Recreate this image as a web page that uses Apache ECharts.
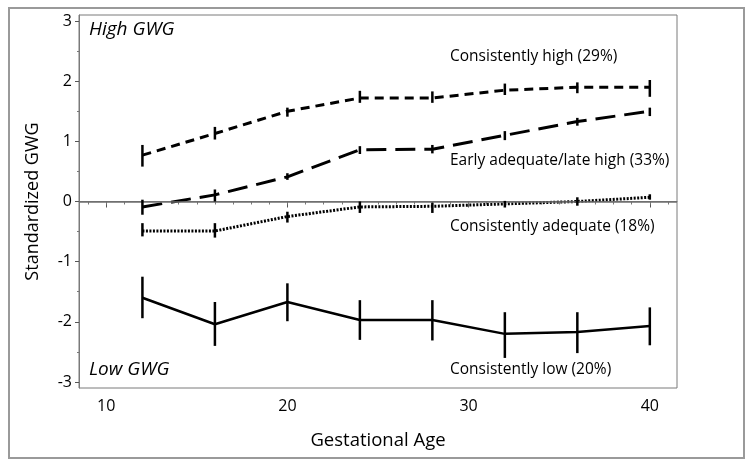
<!DOCTYPE html>
<html><head><meta charset="utf-8">
<script src="https://cdn.jsdelivr.net/npm/echarts@6/dist/echarts.min.js"></script>
<style>html,body{margin:0;padding:0;background:#fff}#c{width:750px;height:463px}</style>
</head><body><div id="c"></div>
<script>
var ages = [12,16,20,24,28,32,36,40];
var highMean = [0.77,1.13,1.50,1.72,1.72,1.85,1.90,1.90];
var highLo   = [0.58,1.03,1.41,1.64,1.64,1.77,1.80,1.74];
var highHi   = [0.94,1.24,1.56,1.84,1.83,1.96,1.98,2.02];
var earlyMean = [-0.09,0.11,0.41,0.86,0.87,1.10,1.33,1.50];
var earlyLo   = [-0.22,0.00,0.36,0.79,0.80,1.02,1.26,1.42];
var earlyHi   = [0.03,0.20,0.47,0.92,0.94,1.17,1.39,1.56];
var adeqMean = [-0.49,-0.49,-0.25,-0.09,-0.08,-0.04,0.00,0.07];
var adeqLo   = [-0.58,-0.60,-0.35,-0.19,-0.19,-0.10,-0.07,0.03];
var adeqHi   = [-0.36,-0.36,-0.17,0.00,-0.02,0.01,0.07,0.12];
var lowMean = [-1.60,-2.04,-1.67,-1.97,-1.97,-2.20,-2.17,-2.07];
var lowLo   = [-1.94,-2.40,-1.99,-2.30,-2.31,-2.60,-2.52,-2.39];
var lowHi   = [-1.25,-1.67,-1.36,-1.64,-1.64,-1.84,-1.84,-1.76];
var xMajor = [10,20,30,40];
var xMinor = [9,10,11,12,13,14,15,16,17,18,19,20,21,22,23,24,25,26,27,28,29,30,31,32,33,34,35,36,37,38,39,40,41];
var yMajor = [-3,-2,-1,0,1,2,3];
var yMinor = [-2.5,-1.5,-0.5,0.5,1.5,2.5];
var groupNames = ['Consistently high (29%)','Early adequate/late high (33%)','Consistently adequate (18%)','Consistently low (20%)'];

var FONT = 'Open Sans';
var chart = echarts.init(document.getElementById('c'));

function pairs(m){ return ages.map(function(a,i){ return [a, m[i]]; }); }
function bars(lo,hi){ return ages.map(function(a,i){ return [a, lo[i], hi[i]]; }); }
function errSeries(lo,hi,w){
  return {
    type:'custom', xAxisIndex:0, yAxisIndex:0, silent:true, z:5,
    data: bars(lo,hi),
    encode:{x:0, y:[1,2]},
    renderItem:function(params, api){
      var p1 = api.coord([api.value(0), api.value(1)]);
      var p2 = api.coord([api.value(0), api.value(2)]);
      return {type:'line', shape:{x1:p1[0],y1:p1[1],x2:p2[0],y2:p2[1]}, style:{stroke:'#000', lineWidth:w}};
    }
  };
}
function lineSeries(m, type, w){
  return {type:'line', xAxisIndex:0, yAxisIndex:0, data:pairs(m), symbol:'none', silent:true, z:4,
    lineStyle:{color:'#000', width:w, type:type}};
}
var axisTxt = {fontFamily:FONT, fontSize:16, color:'#000'};
var noteStyle = {fontFamily:FONT, fontSize:15.5, fill:'#000', verticalAlign:'middle'};

var option = {
  animation:false,
  grid:{left:79, top:15, right:73, bottom:75, show:true, borderColor:'#7a7a7a', borderWidth:1},
  xAxis:[
    {type:'value', min:8.5, max:41.5, position:'bottom',
     name:'Gestational Age', nameLocation:'middle', nameGap:43,
     nameTextStyle:{fontFamily:FONT, fontSize:18.5, color:'#000'},
     axisLine:{show:true, lineStyle:{color:'#7a7a7a', width:1}},
     axisTick:{show:true, length:6, customValues:xMajor, lineStyle:{color:'#555', width:1}},
     axisLabel:Object.assign({customValues:xMajor, margin:10}, axisTxt),
     splitLine:{show:false}},
    {type:'value', min:8.5, max:41.5, position:'bottom',
     axisLine:{show:false},
     axisTick:{show:true, length:3, customValues:xMinor, lineStyle:{color:'#777', width:1}},
     axisLabel:{show:false}, splitLine:{show:false}}
  ],
  yAxis:[
    {type:'value', min:-3.1, max:3.1, position:'left',
     name:'Standardized GWG', nameLocation:'middle', nameGap:37,
     nameTextStyle:{fontFamily:FONT, fontSize:18, color:'#000'},
     axisLine:{show:true, lineStyle:{color:'#7a7a7a', width:1}},
     axisTick:{show:true, length:4, customValues:yMajor, lineStyle:{color:'#555', width:1}},
     axisLabel:Object.assign({customValues:yMajor, margin:7}, axisTxt),
     splitLine:{show:false}},
    {type:'value', min:-3.1, max:3.1, position:'left',
     axisLine:{show:false},
     axisTick:{show:true, length:2, customValues:yMinor, lineStyle:{color:'#777', width:1}},
     axisLabel:{show:false}, splitLine:{show:false}}
  ],
  series:[
    {type:'line', xAxisIndex:0, yAxisIndex:0, data:[], silent:true, z:3,
     markLine:{silent:true, symbol:'none', label:{show:false},
       lineStyle:{color:'#6e6e6e', type:'solid', width:1.5}, data:[{yAxis:0}]}},
    lineSeries(highMean, [9,6], 3),
    errSeries(highLo, highHi, 2.5),
    lineSeries(earlyMean, [20,9], 3),
    errSeries(earlyLo, earlyHi, 2.5),
    lineSeries(adeqMean, [2,1.5], 3),
    errSeries(adeqLo, adeqHi, 2.5),
    lineSeries(lowMean, 'solid', 2.5),
    errSeries(lowLo, lowHi, 2.5)
  ],
  graphic:[
    {type:'rect', shape:{x:9, y:8, width:735, height:450}, style:{fill:'none', stroke:'#9a9a9a', lineWidth:2}, silent:true, z:-1},
    {type:'text', x:89, y:30, style:{text:'High GWG', fontFamily:FONT, fontSize:19, fontStyle:'italic', fill:'#000', verticalAlign:'middle'}},
    {type:'text', x:89, y:370, style:{text:'Low GWG', fontFamily:FONT, fontSize:19, fontStyle:'italic', fill:'#000', verticalAlign:'middle'}},
    {type:'text', x:450, y:57, style:Object.assign({text:groupNames[0]}, noteStyle)},
    {type:'text', x:450, y:161, style:Object.assign({text:groupNames[1]}, noteStyle)},
    {type:'text', x:450, y:227, style:Object.assign({text:groupNames[2]}, noteStyle)},
    {type:'text', x:450, y:370, style:Object.assign({text:groupNames[3]}, noteStyle)}
  ]
};
chart.setOption(option);
</script>
</body></html>
